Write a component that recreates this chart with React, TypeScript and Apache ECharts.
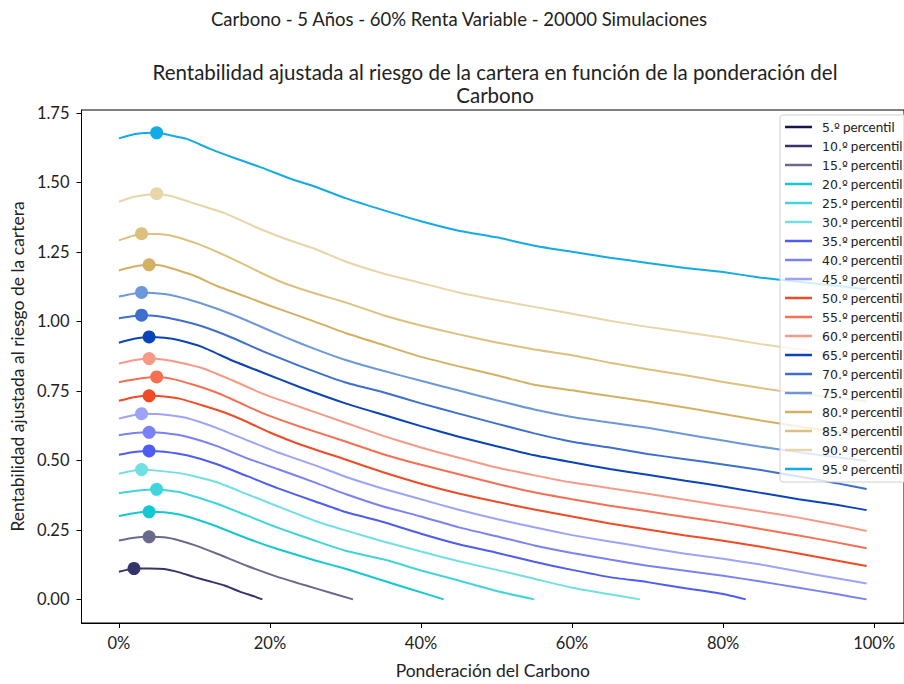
import React, { useEffect, useRef } from "react";
import * as echarts from "echarts";

const FONT = 'Lato, "Open Sans", sans-serif';

const SUPTITLE = "Carbono - 5 Años - 60% Renta Variable - 20000 Simulaciones";
const TITLE = "Rentabilidad ajustada al riesgo de la cartera en función de la ponderación del\nCarbono";
const X_NAME = "Ponderación del Carbono";
const Y_NAME = "Rentabilidad ajustada al riesgo de la cartera";

const X_TICKS = [0, 20, 40, 60, 80, 100];
const Y_TICKS = [0, 0.25, 0.5, 0.75, 1.0, 1.25, 1.5, 1.75];
const X_MIN = -4.95;
const X_MAX = 103.95;
const Y_MIN = -0.085;
const Y_MAX = 1.76;

const PERCENTILES = [5, 10, 15, 20, 25, 30, 35, 40, 45, 50, 55, 60, 65, 70, 75, 80, 85, 90, 95];
const COLORS = [
  "#16164a", "#35356b", "#6a6a8c", "#14c8d2", "#40d5dc", "#70e0e3",
  "#4e5cf2", "#7882f5", "#9ca3f8", "#f24a24", "#f56f52", "#f69a86",
  "#0a44b8", "#3d6fce", "#6b97db", "#d4b063", "#ddc07d", "#e8d5a8", "#13aae8",
];

const p05: number[][] = [];
const p10 = [[0, 0.099], [2, 0.111], [4, 0.111], [6, 0.109], [8, 0.097], [10, 0.080], [12, 0.065], [14, 0.050], [16, 0.028], [18, 0.010], [19, 0.0]];
const p15 = [[0, 0.212], [2, 0.222], [4, 0.225], [6, 0.223], [8, 0.212], [10, 0.195], [13, 0.164], [17, 0.120], [21, 0.081], [25, 0.048], [28, 0.024], [31, 0.0]];
const p20 = [[0, 0.300], [2, 0.310], [4, 0.315], [6, 0.313], [8, 0.305], [10, 0.290], [13, 0.262], [17, 0.219], [21, 0.181], [26, 0.140], [30, 0.110], [34, 0.076], [38, 0.042], [43, 0.0]];
const p25 = [[0, 0.382], [2, 0.390], [5, 0.396], [8, 0.386], [10, 0.370], [13, 0.344], [17, 0.301], [21, 0.258], [26, 0.211], [30, 0.175], [35, 0.144], [40, 0.104], [45, 0.068], [50, 0.030], [55, 0.0]];
const p30 = [[0, 0.452], [3, 0.467], [5, 0.463], [8, 0.454], [10, 0.443], [13, 0.421], [17, 0.378], [21, 0.335], [26, 0.282], [30, 0.248], [35, 0.208], [40, 0.172], [45, 0.137], [50, 0.106], [55, 0.074], [60, 0.042], [65, 0.018], [69, 0.0]];
const p35 = [[0, 0.520], [2, 0.530], [4, 0.534], [6, 0.531], [9, 0.518], [13, 0.486], [17, 0.443], [21, 0.400], [26, 0.352], [30, 0.314], [35, 0.278], [40, 0.236], [45, 0.198], [50, 0.168], [55, 0.135], [60, 0.106], [65, 0.080], [70, 0.062], [75, 0.040], [80, 0.019], [83, 0.0]];
const p40 = [[0, 0.590], [2, 0.598], [4, 0.601], [6, 0.598], [9, 0.585], [13, 0.551], [17, 0.507], [21, 0.469], [26, 0.420], [30, 0.379], [35, 0.334], [40, 0.298], [45, 0.259], [50, 0.227], [55, 0.194], [60, 0.167], [65, 0.143], [70, 0.121], [75, 0.103], [80, 0.085], [85, 0.064], [90, 0.042], [95, 0.019], [99, 0.0]];
const p45 = [[0, 0.650], [3, 0.668], [5, 0.667], [7, 0.661], [9, 0.652], [13, 0.616], [17, 0.572], [21, 0.529], [26, 0.482], [30, 0.441], [35, 0.398], [40, 0.360], [45, 0.322], [50, 0.289], [55, 0.259], [60, 0.231], [65, 0.208], [70, 0.186], [75, 0.164], [80, 0.146], [85, 0.125], [90, 0.100], [95, 0.076], [99, 0.057]];
const p50 = [[0, 0.714], [2, 0.727], [4, 0.732], [6, 0.730], [8, 0.722], [11, 0.698], [14, 0.672], [17, 0.638], [20, 0.600], [24, 0.557], [30, 0.503], [35, 0.457], [40, 0.416], [45, 0.381], [50, 0.351], [55, 0.323], [60, 0.298], [65, 0.273], [70, 0.251], [75, 0.230], [80, 0.211], [85, 0.189], [90, 0.165], [95, 0.140], [99, 0.120]];
const p55 = [[0, 0.781], [3, 0.795], [5, 0.800], [7, 0.793], [10, 0.771], [13, 0.743], [16, 0.707], [19, 0.670], [24, 0.621], [30, 0.568], [35, 0.522], [40, 0.484], [45, 0.450], [50, 0.416], [55, 0.385], [60, 0.360], [65, 0.337], [70, 0.317], [75, 0.296], [80, 0.276], [85, 0.253], [90, 0.230], [95, 0.205], [99, 0.184]];
const p60 = [[0, 0.848], [2, 0.860], [4, 0.866], [6, 0.862], [8, 0.852], [11, 0.832], [15, 0.788], [19, 0.740], [24, 0.692], [30, 0.635], [35, 0.588], [40, 0.546], [45, 0.509], [50, 0.474], [55, 0.446], [60, 0.420], [65, 0.400], [70, 0.380], [75, 0.358], [80, 0.337], [85, 0.316], [90, 0.294], [95, 0.268], [99, 0.246]];
const p65 = [[0, 0.923], [2, 0.937], [4, 0.944], [6, 0.941], [8, 0.932], [11, 0.908], [15, 0.859], [19, 0.816], [24, 0.763], [30, 0.705], [35, 0.664], [40, 0.623], [45, 0.585], [50, 0.551], [55, 0.518], [60, 0.493], [65, 0.469], [70, 0.448], [75, 0.427], [80, 0.406], [85, 0.383], [90, 0.360], [95, 0.340], [99, 0.321]];
const p70 = [[0, 1.011], [3, 1.022], [5, 1.019], [8, 1.004], [11, 0.982], [15, 0.941], [19, 0.893], [24, 0.839], [30, 0.780], [35, 0.745], [40, 0.705], [45, 0.668], [50, 0.632], [55, 0.597], [60, 0.567], [65, 0.546], [70, 0.523], [75, 0.504], [80, 0.485], [85, 0.465], [90, 0.442], [95, 0.418], [99, 0.397]];
const p75 = [[0, 1.089], [3, 1.104], [6, 1.098], [9, 1.080], [13, 1.045], [17, 1.002], [22, 0.943], [26, 0.900], [30, 0.861], [35, 0.822], [40, 0.786], [45, 0.751], [50, 0.716], [55, 0.683], [60, 0.656], [65, 0.636], [70, 0.617], [75, 0.594], [80, 0.571], [85, 0.549], [90, 0.529], [95, 0.511], [99, 0.498]];
const p80 = [[0, 1.183], [2, 1.197], [4, 1.203], [6, 1.198], [10, 1.164], [13, 1.127], [17, 1.087], [20, 1.056], [25, 1.008], [30, 0.958], [35, 0.915], [40, 0.872], [45, 0.838], [50, 0.806], [55, 0.772], [60, 0.752], [65, 0.731], [70, 0.712], [75, 0.690], [80, 0.667], [85, 0.643], [90, 0.622], [95, 0.602], [99, 0.584]];
const p85 = [[0, 1.291], [3, 1.315], [5, 1.314], [7, 1.308], [10, 1.283], [13, 1.250], [16, 1.212], [19, 1.172], [22, 1.136], [26, 1.100], [30, 1.068], [35, 1.022], [40, 0.985], [45, 0.953], [50, 0.924], [55, 0.899], [60, 0.878], [65, 0.851], [70, 0.828], [75, 0.806], [80, 0.782], [85, 0.760], [90, 0.740], [95, 0.725], [99, 0.712]];
const p90 = [[0, 1.430], [2, 1.448], [5, 1.459], [7, 1.450], [10, 1.424], [14, 1.389], [18, 1.340], [22, 1.297], [26, 1.260], [30, 1.215], [35, 1.172], [40, 1.138], [45, 1.104], [50, 1.077], [55, 1.052], [60, 1.027], [65, 1.002], [70, 0.980], [75, 0.961], [80, 0.941], [85, 0.918], [90, 0.900], [95, 0.880], [99, 0.865]];
const p95 = [[0, 1.658], [2, 1.673], [5, 1.678], [7, 1.668], [9, 1.656], [12, 1.621], [15, 1.590], [19, 1.552], [23, 1.510], [26, 1.484], [30, 1.443], [35, 1.400], [40, 1.360], [45, 1.326], [50, 1.302], [55, 1.272], [60, 1.250], [65, 1.229], [70, 1.210], [75, 1.192], [80, 1.177], [85, 1.157], [90, 1.142], [95, 1.128], [99, 1.115]];

const SERIES_DATA = [p05, p10, p15, p20, p25, p30, p35, p40, p45, p50, p55, p60, p65, p70, p75, p80, p85, p90, p95];
const NAMES = PERCENTILES.map((p) => `${p}.º percentil`);

export default function App() {
  const ref = useRef<HTMLDivElement>(null);

  useEffect(() => {
    if (!ref.current) return;
    const chart = echarts.init(ref.current, null, { renderer: "svg" });

    const series = SERIES_DATA.map((data, i) => ({
      type: "line",
      name: NAMES[i],
      data,
      color: COLORS[i],
      symbol: "none",
      showSymbol: false,
      smooth: 0.15,
      lineStyle: { width: 2, color: COLORS[i] },
      z: 2,
      markPoint: data.length
        ? {
            symbol: "circle",
            symbolSize: 13,
            data: [{ type: "max", valueDim: "y" }],
            label: { show: false },
            itemStyle: { color: COLORS[i] },
            silent: true,
          }
        : undefined,
    }));

    chart.setOption({
      animation: false,
      backgroundColor: "#ffffff",
      textStyle: { fontFamily: FONT },
      title: [
        {
          text: SUPTITLE,
          left: 459,
          top: 9,
          padding: 0,
          textAlign: "center",
          textStyle: { fontFamily: FONT, fontSize: 18.5, fontWeight: "normal", color: "#222" },
        },
        {
          text: TITLE,
          left: 495,
          top: 60,
          padding: 0,
          textAlign: "center",
          textStyle: { fontFamily: FONT, fontSize: 20.5, fontWeight: "normal", color: "#222", lineHeight: 23 },
        },
      ],
      legend: {
        orient: "vertical",
        left: 780,
        top: 115,
        data: NAMES,
        icon: "path://M0,0 L27,0 L27,2.5 L0,2.5 Z",
        itemWidth: 27,
        itemHeight: 14,
        itemGap: 5,
        padding: [5, 6, 6, 5],
        backgroundColor: "rgba(255,255,255,0.8)",
        borderColor: "#d0d0d0",
        borderWidth: 1,
        borderRadius: 3,
        formatter: (name: string) => {
          const [num, word] = name.split(" ");
          return `{n|${num}} {p|${word}}`;
        },
        textStyle: {
          color: "#222",
          rich: {
            n: { fontFamily: '"DejaVu Sans"', fontSize: 12.5, color: "#222", padding: [0, 0, 0, 5] },
            p: { fontFamily: FONT, fontSize: 13.5, color: "#222" },
          },
        },
      },
      grid: {
        left: 81,
        top: 110,
        width: 830,
        height: 522,
        show: true,
        borderColor: "#000",
        borderWidth: 1,
        containLabel: false,
      },
      xAxis: {
        type: "value",
        min: X_MIN,
        max: X_MAX,
        name: X_NAME,
        nameLocation: "middle",
        nameGap: 38,
        nameTextStyle: { fontFamily: FONT, fontSize: 17.5, color: "#222" },
        axisLine: { show: true, onZero: false, lineStyle: { color: "#000", width: 1 } },
        axisTick: { show: true, customValues: X_TICKS, length: 5, lineStyle: { color: "#000" } },
        axisLabel: {
          customValues: X_TICKS,
          formatter: (v: number) => `${Math.round(v)}%`,
          fontFamily: FONT,
          fontSize: 16.5,
          color: "#222",
          margin: 11,
        },
        splitLine: { show: false },
      },
      yAxis: {
        type: "value",
        min: Y_MIN,
        max: Y_MAX,
        name: Y_NAME,
        nameLocation: "middle",
        nameGap: 54,
        nameRotate: 90,
        nameTextStyle: { fontFamily: FONT, fontSize: 17.5, color: "#222" },
        axisLine: { show: true, onZero: false, lineStyle: { color: "#000", width: 1 } },
        axisTick: { show: true, customValues: Y_TICKS, length: 5, lineStyle: { color: "#000" } },
        axisLabel: {
          customValues: Y_TICKS,
          formatter: (v: number) => v.toFixed(2),
          fontFamily: FONT,
          fontSize: 16.5,
          color: "#222",
          margin: 12,
        },
        splitLine: { show: false },
      },
      series,
    });

    return () => chart.dispose();
  }, []);

  return (
    <div
      ref={ref}
      style={{ position: "absolute", left: 0, top: 0, width: 904, height: 684, background: "#fff" }}
    />
  );
}
